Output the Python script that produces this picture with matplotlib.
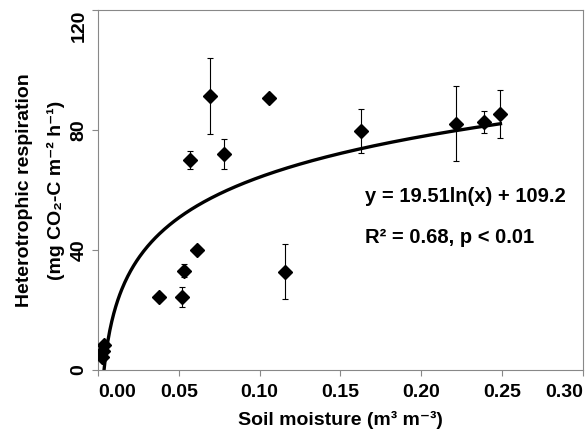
import matplotlib.pyplot as plt
import numpy as np

plt.rcParams['font.family'] = ['Liberation Sans', 'DejaVu Sans']

# Soil moisture (m3 m-3) and heterotrophic respiration (mg CO2-C m-2 h-1)
moisture = [0.0025, 0.003, 0.004, 0.0379, 0.0519, 0.0529, 0.0568, 0.0615, 0.0691,
            0.0778, 0.1056, 0.1154, 0.1628, 0.2212, 0.2391, 0.2488]
resp = [4.5, 6.5, 8.5, 24.4, 24.4, 33.1, 70.0, 40.0, 91.3,
        72.1, 90.6, 32.8, 79.7, 82.0, 82.6, 85.3]
resp_err = [0, 0, 0, 0, 3.3, 2.2, 3.0, 0, 12.8,
            5.0, 0, 9.3, 7.3, 12.5, 3.6, 8.1]

# log fit: y = 19.51 ln(x) + 109.2
slope, intercept = 19.51, 109.2
x_fit = np.linspace(np.exp(-intercept / slope) * 0.97, 0.249, 400)
y_fit = slope * np.log(x_fit) + intercept

fig = plt.figure(figsize=(5.87, 4.32), dpi=100)
ax = fig.add_axes([0.167, 0.1435, 0.826, 0.8335])

ax.plot(x_fit, y_fit, color='black', lw=2.4, zorder=2)
ax.errorbar(moisture, resp, yerr=resp_err, fmt='D', color='black', markersize=7,
            ecolor='black', elinewidth=0.8, capsize=2.5, capthick=0.8, zorder=3)

ax.set_xlim(0, 0.30)
ax.set_ylim(0, 120)
ax.set_xticks([0, 0.05, 0.10, 0.15, 0.20, 0.25, 0.30])
ax.set_xticklabels(['0.00', '0.05', '0.10', '0.15', '0.20', '0.25', '0.30'])
ax.set_yticks([0, 40, 80, 120])
for s in ax.spines.values():
    s.set_color('#888888')
ax.tick_params(direction='out', color='#888888', length=4, labelsize=14)
ax.tick_params(axis='x', pad=6)
for lab in ax.get_xticklabels() + ax.get_yticklabels():
    lab.set_fontweight('bold')
for lab in ax.get_yticklabels():
    lab.set_rotation(90)
    lab.set_va('center')
ax.get_yticklabels()[-1].set_va('top')
ax.get_xticklabels()[0].set_ha('left')
ax.get_xticklabels()[-1].set_ha('right')

ax.set_xlabel('Soil moisture (m³ m⁻³)', fontsize=14, fontweight='bold', labelpad=7)
ax.set_ylabel('Heterotrophic respiration\n(mg CO₂-C m⁻² h⁻¹)',
              fontsize=14, fontweight='bold', linespacing=2.0, labelpad=4)

ax.text(0.165, 57.7, 'y = 19.51ln(x) + 109.2', fontsize=14.5, fontweight='bold', va='center')
ax.text(0.165, 44.3, 'R² = 0.68, p < 0.01', fontsize=14.5, fontweight='bold', va='center')

fig.savefig('out.png', dpi=100)
